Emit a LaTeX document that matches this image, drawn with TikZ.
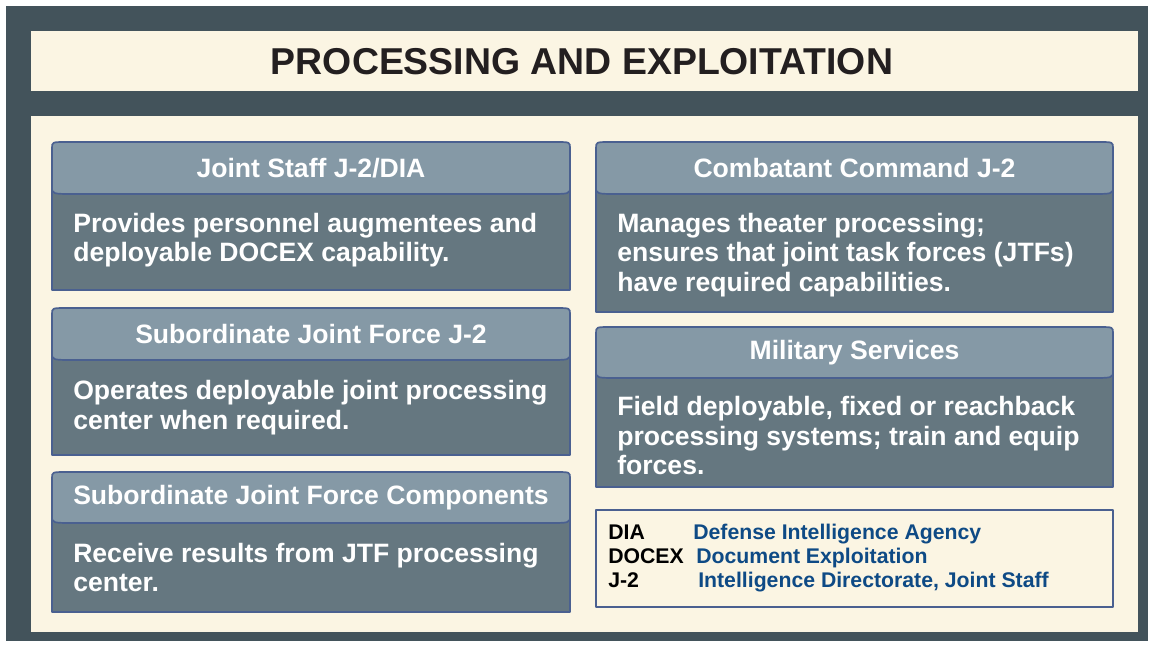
\documentclass[tikz,border=0pt]{standalone}
\usepackage{fontspec}
\setmainfont{Liberation Sans}
\definecolor{framegrey}{HTML}{43535B}
\definecolor{cream}{HTML}{FBF5E3}
\definecolor{bandfill}{HTML}{8599A6}
\definecolor{bodyfill}{HTML}{657780}
\definecolor{cardline}{HTML}{4A6090}
\definecolor{titleink}{HTML}{231F20}
\definecolor{legblue}{HTML}{0E4A85}
\begin{document}
\begin{tikzpicture}[x=0.025cm,y=-0.025cm,line join=round,
    band/.style={fill=bandfill,draw=cardline,line width=1.2pt},
    cardbody/.style={fill=bodyfill,draw=cardline,line width=1.2pt},
    headtext/.style={font=\bfseries\fontsize{18.9}{21}\selectfont,text=white,inner sep=0pt},
    bodytext/.style={font=\bfseries\fontsize{18.9}{21}\selectfont,text=white,align=left,anchor=west,inner sep=0pt},
    legkey/.style={font=\bfseries\fontsize{15.1}{17}\selectfont,text=black,anchor=base west,inner sep=0pt},
    legdef/.style={font=\bfseries\fontsize{15.1}{17}\selectfont,text=legblue,anchor=base west,inner sep=0pt}]
  \useasboundingbox (0,0) rectangle (1154,647);
  \fill[white] (0,0) rectangle (1154,647);
  \fill[framegrey] (6,6) rectangle (1148,641);
  \fill[cream] (31,31) rectangle (1138,91);
  \fill[cream] (31,116) rectangle (1138,632);
  \node[font=\bfseries\fontsize{26.6}{30}\selectfont,text=titleink] (title) at (582,62) {PROCESSING AND EXPLOITATION};
  \foreach \n/\xa/\xb/\yt/\yb/\ye/\dy/\head/\body in {
      jsdia/52/570/142/194/290/-2/{Joint Staff J-2/DIA}/{Provides personnel augmentees and\\deployable DOCEX capability.},
      sjf/52/570/308/360/455/0/{Subordinate Joint Force J-2}/{Operates deployable joint processing\\center when required.},
      sjfc/52/570/472/523/612/0/{Subordinate Joint Force Components}/{Receive results from JTF processing\\center.},
      ccmd/596/1113/142/194/312/2/{Combatant Command J-2}/{Manages theater processing;\\ensures that joint task forces (JTFs)\\have required capabilities.},
      milsvc/596/1113/327/378/487/3/{Military Services}/{Field deployable, fixed or reachback\\processing systems; train and equip\\forces.}}{
    \draw[cardbody] (\xa,\yt+20) rectangle (\xb,\ye);
    \draw[band] (\xa,\yb-7) -- (\xa,\yt+6) .. controls (\xa,\yt) .. (\xa+15,\yt) -- (\xb-15,\yt)
      .. controls (\xb,\yt) .. (\xb,\yt+6) -- (\xb,\yb-7) .. controls (\xb,\yb) .. (\xb-24,\yb)
      -- (\xa+24,\yb) .. controls (\xa,\yb) .. (\xa,\yb-7) -- cycle;
    \node[headtext] (head-\n) at ({(\xa+\xb)/2},{(\yt+\yb)/2}) {\head};
    \node[bodytext] (body-\n) at (\xa+21,{(\yb+\ye)/2+\dy}) {\body};
  }
  \draw[cardline,fill=cream,line width=1.2pt] (596,510) rectangle (1113,607);
  \foreach \n/\y/\abbr/\xd/\full in {dia/539/DIA/693/{Defense Intelligence Agency},
      docex/563/DOCEX/696/{Document Exploitation},
      jtwo/587/J-2/698/{Intelligence Directorate, Joint Staff}}{
    \node[legkey] (key-\n) at (608,\y) {\abbr};
    \node[legdef] (def-\n) at (\xd,\y) {\full};
  }
\end{tikzpicture}
\end{document}
